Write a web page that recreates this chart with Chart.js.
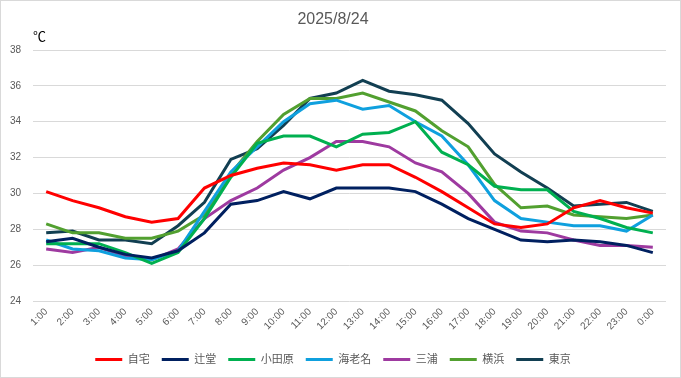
<!DOCTYPE html>
<html>
<head>
<meta charset="utf-8">
<script src="https://cdn.jsdelivr.net/npm/chart.js@4/dist/chart.umd.min.js"></script>
<style>
html,body{margin:0;padding:0;background:#fff;}
canvas{display:block;}
</style>
</head>
<body>
<canvas id="c" width="681" height="378"></canvas>
<script>
const title = '2025/8/24';
const unitLabel = '℃';
const hours = ['1:00','2:00','3:00','4:00','5:00','6:00','7:00','8:00','9:00','10:00','11:00','12:00','13:00','14:00','15:00','16:00','17:00','18:00','19:00','20:00','21:00','22:00','23:00','0:00'];
const seriesNames = ['自宅','辻堂','小田原','海老名','三浦','横浜','東京'];
const jitaku   = [30.1,29.6,29.2,28.7,28.4,28.6,30.3,31.0,31.4,31.7,31.6,31.3,31.6,31.6,30.9,30.1,29.2,28.3,28.1,28.3,29.2,29.6,29.2,28.9];
const tsujido  = [27.3,27.5,27.0,26.6,26.4,26.8,27.8,29.4,29.6,30.1,29.7,30.3,30.3,30.3,30.1,29.4,28.6,28.0,27.4,27.3,27.4,27.3,27.1,26.7];
const odawara  = [27.2,27.2,27.2,26.7,26.1,26.7,28.6,30.9,32.8,33.2,33.2,32.6,33.3,33.4,34.0,32.3,31.6,30.4,30.2,30.2,29.0,28.6,28.1,27.8];
const ebina    = [27.4,26.9,26.8,26.4,26.3,26.8,29.0,31.2,32.6,34.0,35.0,35.2,34.7,34.9,34.0,33.2,31.6,29.6,28.6,28.4,28.2,28.2,27.9,28.8];
const miura    = [26.9,26.7,27.0,26.5,26.3,26.9,28.6,29.6,30.3,31.3,32.0,32.9,32.9,32.6,31.7,31.2,30.0,28.4,27.9,27.8,27.4,27.1,27.1,27.0];
const yokohama = [28.3,27.8,27.8,27.5,27.5,27.9,28.8,31.1,32.9,34.4,35.3,35.3,35.6,35.1,34.6,33.5,32.6,30.5,29.2,29.3,28.8,28.7,28.6,28.8];
const tokyo    = [27.8,27.9,27.4,27.4,27.2,28.2,29.5,31.9,32.5,33.8,35.3,35.6,36.3,35.7,35.5,35.2,33.9,32.2,31.2,30.3,29.3,29.4,29.5,29.0];
const yMin = 24, yMax = 38, yStep = 2;

const seriesValues = [jitaku, tsujido, odawara, ebina, miura, yokohama, tokyo];
const seriesColors = ['#FF0000','#002060','#00B050','#0FA0DE','#9E3AA0','#52A030','#123F52'];

const FONT = '"Liberation Sans", "Noto Sans CJK JP", sans-serif';

const decor = {
  id: 'decor',
  beforeDraw(chart) {
    const ctx = chart.ctx;
    ctx.save();
    ctx.fillStyle = '#ffffff';
    ctx.fillRect(0, 0, chart.width, chart.height);
    ctx.strokeStyle = '#d9d9d9';
    ctx.lineWidth = 1;
    ctx.strokeRect(0.5, 0.5, chart.width - 1, chart.height - 1);
    ctx.restore();
  },
  afterDraw(chart) {
    const ctx = chart.ctx;
    ctx.save();
    ctx.fillStyle = '#000000';
    ctx.font = '13px ' + FONT;
    ctx.textAlign = 'left';
    ctx.textBaseline = 'middle';
    ctx.fillText(unitLabel, chart.chartArea.left, 37);
    ctx.restore();
  }
};

new Chart(document.getElementById('c'), {
  type: 'line',
  data: {
    labels: hours,
    datasets: seriesNames.map((n, i) => ({
      label: n,
      data: seriesValues[i],
      borderColor: seriesColors[i],
      backgroundColor: seriesColors[i],
      borderWidth: 3,
      pointRadius: 0,
      tension: 0,
      fill: false
    }))
  },
  options: {
    responsive: false,
    animation: false,
    layout: { padding: { top: 0, left: 0, right: 15, bottom: 3 } },
    plugins: {
      title: {
        display: true,
        text: title,
        color: '#595959',
        font: { family: FONT, size: 16, weight: 'normal' },
        padding: { top: 10, bottom: 20.8 }
      },
      legend: {
        position: 'bottom',
        labels: {
          usePointStyle: true,
          pointStyle: 'line',
          pointStyleWidth: 27,
          boxHeight: 11,
          padding: 12,
          color: '#595959',
          font: { family: FONT, size: 11 }
        }
      },
      tooltip: { enabled: false }
    },
    scales: {
      x: {
        offset: true,
        grid: { display: false, drawTicks: false },
        border: { display: false },
        ticks: {
          autoSkip: false,
          minRotation: 45,
          maxRotation: 45,
          padding: 5,
          color: '#595959',
          font: { family: FONT, size: 10 }
        },
        afterFit(s) { s.height = 41; }
      },
      y: {
        min: yMin,
        max: yMax,
        grid: { color: '#d9d9d9', drawTicks: false, lineWidth: 1 },
        border: { display: false },
        ticks: {
          stepSize: yStep,
          padding: 12,
          color: '#595959',
          font: { family: FONT, size: 10 }
        },
        afterFit(s) { s.width = 33; }
      }
    }
  },
  plugins: [decor]
});
</script>
</body>
</html>
